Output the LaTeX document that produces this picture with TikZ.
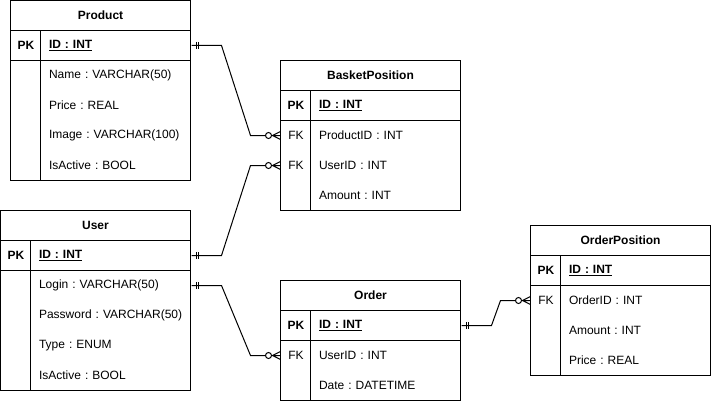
\documentclass[tikz,border=0pt]{standalone}
\usepackage{fontspec}
\setmainfont{Liberation Sans}
\frenchspacing

% ER end marks: mandatory one and zero-to-many
\pgfdeclarearrow{
  name = ERone,
  setup code = {
    \pgfarrowssettipend{0pt}
    \pgfarrowssetlineend{0pt}
    \pgfarrowssetbackend{-8pt}
    \pgfarrowsupperhullpoint{-8pt}{4pt}
    \pgfarrowsupperhullpoint{0pt}{4pt}
  },
  drawing code = {
    \pgfsetdash{}{0pt}
    \pgfpathmoveto{\pgfqpoint{-4.5pt}{-3.5pt}}
    \pgfpathlineto{\pgfqpoint{-4.5pt}{3.5pt}}
    \pgfpathmoveto{\pgfqpoint{-7pt}{-3.5pt}}
    \pgfpathlineto{\pgfqpoint{-7pt}{3.5pt}}
    \pgfusepathqstroke
  }
}
\pgfdeclarearrow{
  name = ERzeromany,
  setup code = {
    \pgfarrowssettipend{0pt}
    \pgfarrowssetlineend{-15pt}
    \pgfarrowssetbackend{-15.5pt}
    \pgfarrowsupperhullpoint{-15.5pt}{4pt}
    \pgfarrowsupperhullpoint{0pt}{4pt}
  },
  drawing code = {
    \pgfsetdash{}{0pt}
    \pgfpathmoveto{\pgfqpoint{0pt}{4pt}}
    \pgfpathlineto{\pgfqpoint{-8pt}{0pt}}
    \pgfpathlineto{\pgfqpoint{0pt}{-4pt}}
    \pgfpathmoveto{\pgfqpoint{-9pt}{0pt}}
    \pgfpathlineto{\pgfqpoint{0pt}{0pt}}
    \pgfusepathqstroke
    \pgfsetfillcolor{white}
    \pgfpathcircle{\pgfqpoint{-12pt}{0pt}}{3pt}
    \pgfusepathqfillstroke
  }
}

\begin{document}
\begin{tikzpicture}[x=1pt, y=-1pt, line width=1pt,
    every node/.style={inner sep=0pt, font=\fontsize{12}{14}\selectfont},
    title/.style={minimum height=30pt, font=\fontsize{12}{14}\selectfont\bfseries},
    keycell/.style={minimum width=30pt, minimum height=30pt, anchor=west},
    field/.style={minimum height=30pt, text width=#1, inner xsep=8pt, align=left, anchor=west},
    pkey/.style={font=\fontsize{12}{14}\selectfont\bfseries},
    rel/.style={arrows={ERone-ERzeromany}}]
\useasboundingbox (-0.5,-0.5) rectangle (710.5,400.5);

% Product
\draw (10,0) rectangle (190,180);
\draw (10,30) -- (190,30) (10,60) -- (190,60) (40,30) -- (40,180);
\node [title] (product) at (100,15) {Product};
\node [keycell, pkey] (prod-pk) at (10,45) {PK};
\node [field=134pt, pkey] (prod-id) at (40,45) {\underline{ID : INT}};
\node [field=134pt] (prod-name) at (40,75) {Name : VARCHAR(50)};
\node [field=134pt] (prod-price) at (40,105) {Price : REAL};
\node [field=134pt] (prod-image) at (40,135) {Image : VARCHAR(100)};
\node [field=134pt] (prod-active) at (40,165) {IsActive : BOOL};

% BasketPosition
\draw (280,60) rectangle (460,210);
\draw (280,90) -- (460,90) (280,120) -- (460,120) (310,90) -- (310,210);
\node [title] (basket) at (370,75) {BasketPosition};
\node [keycell, pkey] (bp-pk) at (280,105) {PK};
\node [field=134pt, pkey] (bp-id) at (310,105) {\underline{ID : INT}};
\node [keycell] (bp-fk1) at (280,135) {FK};
\node [field=134pt] (bp-prod) at (310,135) {ProductID : INT};
\node [keycell] (bp-fk2) at (280,165) {FK};
\node [field=134pt] (bp-user) at (310,165) {UserID : INT};
\node [field=134pt] (bp-amount) at (310,195) {Amount : INT};

% User
\draw (0,210) rectangle (190,390);
\draw (0,240) -- (190,240) (0,270) -- (190,270) (30,240) -- (30,390);
\node [title] (user) at (95,225) {User};
\node [keycell, pkey] (user-pk) at (0,255) {PK};
\node [field=144pt, pkey] (user-id) at (30,255) {\underline{ID : INT}};
\node [field=144pt] (user-login) at (30,285) {Login : VARCHAR(50)};
\node [field=144pt] (user-pass) at (30,315) {Password : VARCHAR(50)};
\node [field=144pt] (user-type) at (30,345) {Type : ENUM};
\node [field=144pt] (user-active) at (30,375) {IsActive : BOOL};

% Order
\draw (280,280) rectangle (460,400);
\draw (280,310) -- (460,310) (280,340) -- (460,340) (310,310) -- (310,400);
\node [title] (order) at (370,295) {Order};
\node [keycell, pkey] (ord-pk) at (280,325) {PK};
\node [field=134pt, pkey] (ord-id) at (310,325) {\underline{ID : INT}};
\node [keycell] (ord-fk) at (280,355) {FK};
\node [field=134pt] (ord-user) at (310,355) {UserID : INT};
\node [field=134pt] (ord-date) at (310,385) {Date : DATETIME};

% OrderPosition
\draw (530,225) rectangle (710,375);
\draw (530,255) -- (710,255) (530,285) -- (710,285) (560,255) -- (560,375);
\node [title] (orderpos) at (620,240) {OrderPosition};
\node [keycell, pkey] (op-pk) at (530,270) {PK};
\node [field=134pt, pkey] (op-id) at (560,270) {\underline{ID : INT}};
\node [keycell] (op-fk) at (530,300) {FK};
\node [field=134pt] (op-order) at (560,300) {OrderID : INT};
\node [field=134pt] (op-amount) at (560,330) {Amount : INT};
\node [field=134pt] (op-price) at (560,360) {Price : REAL};

% relations
\draw [rel] (prod-id.east) -- ++(30,0) -- ([xshift=-30pt]bp-fk1.west) -- (bp-fk1.west);
\draw [rel] (user-id.east) -- ++(30,0) -- ([xshift=-30pt]bp-fk2.west) -- (bp-fk2.west);
\draw [rel] (user-login.east) -- ++(30,0) -- ([xshift=-30pt]ord-fk.west) -- (ord-fk.west);
\draw [rel] (ord-id.east) -- ++(30,0) -- ([xshift=-30pt]op-fk.west) -- (op-fk.west);

\end{tikzpicture}
\end{document}
